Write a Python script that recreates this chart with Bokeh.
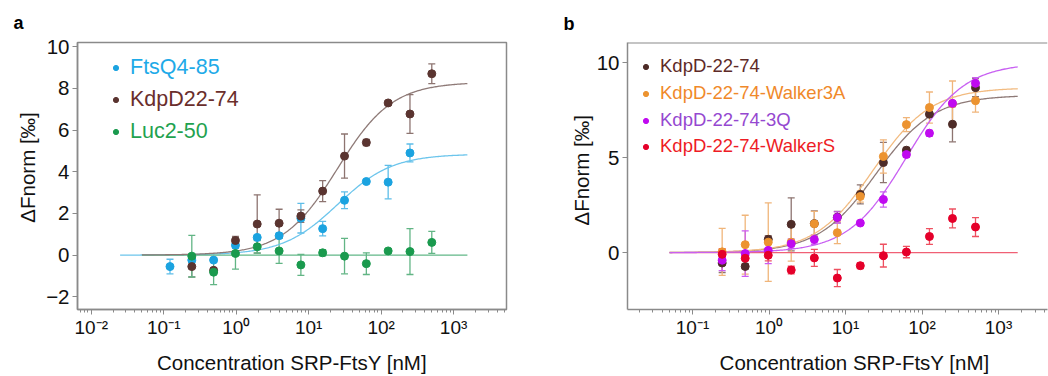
import numpy as np
from bokeh.plotting import figure
from bokeh.layouts import row
from bokeh.models import (ColumnDataSource, Whisker, TeeHead, FixedTicker, LogTicker,
                          CustomJSTickFormatter, Legend, LegendItem, Title, Span, Range1d)
from bokeh.embed import file_html
from bokeh.resources import INLINE

FONT = "Liberation Sans"

# ---------------- data ----------------
conc_ftsq = [0.122, 0.244, 0.488, 0.977, 1.95, 3.91, 7.81, 15.6, 31.25, 62.5, 125, 250]
conc = [0.244, 0.488, 0.977, 1.95, 3.91, 7.81, 15.6, 31.25, 62.5, 125, 250, 500]

# panel a
ftsq_y = [-0.55, -0.24, -0.24, 0.47, 0.85, 0.93, 1.77, 1.27, 2.63, 3.53, 3.5, 4.9]
ftsq_err = [0.35, 0.12, 0.1, 0.15, 0.1, 0.12, 0.71, 0.35, 0.4, 0.08, 0.8, 0.43]
kdpd_y = [-0.55, -0.73, 0.7, 1.49, 1.53, 1.87, 3.07, 4.75, 5.4, 7.3, 6.77, 8.7]
kdpd_err = [0.5, 0.12, 0.2, 1.4, 0.67, 0.3, 0.5, 1.06, 0.15, 0.1, 0.93, 0.47]
luc_y = [-0.05, -0.82, 0.08, 0.4, 0.2, -0.47, 0.11, -0.05, -0.41, 0.2, 0.17, 0.61]
luc_err = [1.0, 0.6, 0.75, 0.3, 0.6, 0.5, 0.15, 0.85, 0.52, 0.08, 1.1, 0.53]

# panel b
w3a_y = [0.04, 0.42, 0.55, 0.55, 1.52, 1.05, 2.96, 5.07, 6.75, 7.65, 7.85, 8.01]
w3a_err = [1.24, 1.55, 2.07, 1.0, 0.65, 0.58, 0.3, 0.88, 0.37, 0.82, 1.2, 0.6]
q3_y = [-0.4, -0.05, 0.12, 0.47, 0.69, 1.85, 1.56, 2.8, 5.17, 6.3, 7.87, 8.93]
q3_err = [0.55, 1.2, 0.7, 0.25, 0.25, 0.3, 0.1, 0.4, 0.15, 0.15, 0.1, 0.3]
ws_y = [-0.09, -0.3, -0.14, -0.92, -0.28, -1.34, -0.69, -0.16, 0.03, 0.85, 1.8, 1.35]
ws_err = [0.3, 0.3, 0.3, 0.2, 0.45, 0.45, 0.15, 0.6, 0.3, 0.42, 0.5, 0.5]

# fitted binding curves: amplitude, EC50 [nM], Hill slope
fit_kdpd = (8.3, 25.0, 1.15)
fit_ftsq = (4.85, 25.0, 1.15)
fit_luc = (0.0, 25.0, 1.0)
fit_w3a = (8.7, 23.0, 1.15)
fit_q3 = (10.0, 62.0, 1.15)
fit_ws = (0.0, 25.0, 1.0)
fit_span_a = (0.05, 1550.0)
fit_span_a_ftsq = (0.025, 1550.0)
fit_span_b = (0.05, 1780.0)

X_LABEL = "Concentration SRP-FtsY [nM]"
Y_LABEL = "\u0394Fnorm [\u2030]"
NB = "\u00a0"

# ---------------- helpers ----------------
SUP_JS = """
const sup = {"-": "\u207b", "0": "\u2070", "1": "\u00b9", "2": "\u00b2", "3": "\u00b3",
             "4": "\u2074", "5": "\u2075", "6": "\u2076", "7": "\u2077", "8": "\u2078", "9": "\u2079"};
const e = Math.round(Math.log10(tick));
return "10" + String(e).split("").map(c => sup[c]).join("");
"""

GRAY = "#8a8a8a"


def hill(x, p):
    a, k, n = p
    x = np.asarray(x, dtype=float)
    return a * x ** n / (k ** n + x ** n)


def add_fit(p, params, span, color):
    xs = np.logspace(np.log10(span[0]), np.log10(span[1]), 300)
    p.line(xs, hill(xs, params), line_color=color, line_width=1.3)


def add_series(p, x, y, err, color, err_color):
    y = np.asarray(y, dtype=float)
    e = np.asarray(err, dtype=float)
    src = ColumnDataSource(dict(x=list(x), y=y, lower=y - e, upper=y + e))
    w = Whisker(source=src, base="x", lower="lower", upper="upper", dimension="height",
                line_color=err_color, line_width=1.3,
                upper_head=TeeHead(size=7, line_color=err_color, line_width=1.3),
                lower_head=TeeHead(size=7, line_color=err_color, line_width=1.3))
    p.add_layout(w)
    return p.scatter("x", "y", source=src, size=8, fill_color=color, line_color=color)


def add_legend(p, renderer, label, color, loc, fsize, standoff):
    lg = Legend(items=[LegendItem(label=label, renderers=[renderer])], location=loc,
                label_text_color=color, label_text_font=FONT, label_text_font_size=fsize,
                glyph_width=13, glyph_height=13, label_standoff=standoff,
                padding=0, margin=0, spacing=0, background_fill_alpha=0,
                border_line_color=None, label_height=13)
    p.add_layout(lg)


def add_letter(p, letter, offset, standoff):
    p.add_layout(Title(text=letter, align="left", offset=offset, standoff=standoff,
                       text_font=FONT, text_font_style="bold", text_font_size="18px",
                       text_color="black"), "above")


def style(p, yticks, xlabel, ylabel):
    p.xaxis.ticker = LogTicker(num_minor_ticks=10)
    p.xaxis.formatter = CustomJSTickFormatter(code=SUP_JS)
    p.yaxis.ticker = FixedTicker(ticks=yticks)
    for ax in (p.xaxis[0], p.yaxis[0]):
        ax.axis_line_color = GRAY
        ax.axis_line_width = 1.5
        ax.major_tick_line_color = GRAY
        ax.minor_tick_line_color = GRAY
        ax.major_tick_in = 0
        ax.major_tick_out = 5
        ax.minor_tick_in = 0
        ax.minor_tick_out = 3
        ax.major_label_text_font = FONT
        ax.major_label_text_color = "#111111"
        ax.axis_label_text_font = FONT
        ax.axis_label_text_font_style = "normal"
        ax.axis_label_text_color = "#111111"
        ax.axis_label_text_font_size = "20.5px"
    p.xaxis.major_label_text_font_size = "19px"
    p.yaxis.major_label_text_font_size = "20.5px"
    p.yaxis.minor_tick_line_color = None
    p.xaxis.major_label_standoff = 2
    p.yaxis.major_label_standoff = 3
    p.xaxis.axis_label_standoff = 10
    p.yaxis.axis_label_standoff = 4
    p.xaxis.axis_label = xlabel
    p.yaxis.axis_label = ylabel
    p.xgrid.grid_line_color = None
    p.ygrid.grid_line_color = None
    p.background_fill_color = "white"
    p.border_fill_color = "white"


# ---------------- panel a ----------------
pa = figure(width=560, height=376, x_axis_type="log", output_backend="svg", toolbar_location=None,
            x_range=Range1d(10 ** -2.19, 10 ** 3.73), y_range=Range1d(-2.61, 10.2),
            min_border_left=77, min_border_right=54, min_border_top=42, min_border_bottom=64)
style(pa, [-2, 0, 2, 4, 6, 8, 10], X_LABEL, NB * 3 + Y_LABEL)
pa.outline_line_color = GRAY
pa.outline_line_width = 1.5
add_letter(pa, "a", -64, 20)

add_fit(pa, fit_ftsq, fit_span_a_ftsq, "#6cc5ec")
add_fit(pa, fit_luc, fit_span_a, "#62b888")
add_fit(pa, fit_kdpd, fit_span_a, "#8e7a77")
r_ftsq = add_series(pa, conc_ftsq, ftsq_y, ftsq_err, "#1ba3e0", "#5dbde8")
r_kdpd = add_series(pa, conc, kdpd_y, kdpd_err, "#5a3430", "#8d7470")
r_luc = add_series(pa, conc, luc_y, luc_err, "#1a9a4e", "#62b585")

add_legend(pa, r_ftsq, "FtsQ4-85", "#1eaae8", (32, 229), "21.5px", 8)
add_legend(pa, r_kdpd, "KdpD22-74", "#6a2e2c", (32, 197), "21.5px", 8)
add_legend(pa, r_luc, "Luc2-50", "#1fa24f", (32, 165), "21.5px", 8)

# ---------------- panel b ----------------
pb = figure(width=488, height=376, x_axis_type="log", output_backend="svg", toolbar_location=None,
            x_range=Range1d(10 ** -1.85, 10 ** 3.64), y_range=Range1d(-3.0, 11.08),
            min_border_left=67, min_border_right=1, min_border_top=39, min_border_bottom=66)
style(pb, [0, 5, 10], NB * 6 + X_LABEL, NB * 2 + Y_LABEL)
pb.yaxis.axis_label_standoff = 1
pb.outline_line_color = None
pb.add_layout(Span(location=11.08, dimension="width", line_color=GRAY, line_width=2))
add_letter(pb, "b", -64, 17)

add_fit(pb, fit_ws, fit_span_b, "#f06075")
add_fit(pb, fit_kdpd, fit_span_b, "#8e7a77")
add_fit(pb, fit_w3a, fit_span_b, "#f2bb80")
add_fit(pb, fit_q3, fit_span_b, "#c860f2")
rb_kdpd = add_series(pb, conc, kdpd_y, kdpd_err, "#4e2c28", "#8d7470")
rb_w3a = add_series(pb, conc, w3a_y, w3a_err, "#ec9330", "#f0b57a")
rb_q3 = add_series(pb, conc, q3_y, q3_err, "#c00af0", "#cb5cf0")
rb_ws = add_series(pb, conc, ws_y, ws_err, "#e5002a", "#ee5060")

add_legend(pb, rb_kdpd, "KdpD-22-74", "#5e2a27", (12, 232), "18.5px", 8)
add_legend(pb, rb_w3a, "KdpD-22-74-Walker3A", "#f0892a", (12, 205), "18.5px", 8)
add_legend(pb, rb_q3, "KdpD-22-74-3Q", "#9548d0", (12, 178), "18.5px", 8)
add_legend(pb, rb_ws, "KdpD-22-74-WalkerS", "#ee1c25", (12, 152), "18.5px", 8)

layout = row(pa, pb)
open("out.html", "w").write(file_html(layout, INLINE))
